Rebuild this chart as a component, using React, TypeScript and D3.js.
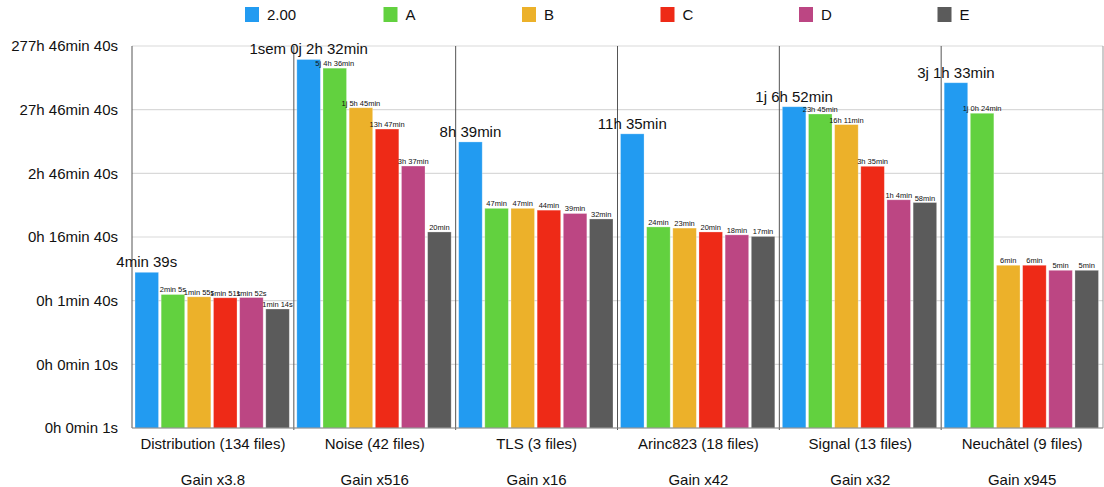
import React from "react";
import * as d3 from "d3";

const categories = [
  "Distribution (134 files)",
  "Noise (42 files)",
  "TLS (3 files)",
  "Arinc823 (18 files)",
  "Signal (13 files)",
  "Neuchâtel (9 files)",
];
const gains = ["Gain x3.8", "Gain x516", "Gain x16", "Gain x42", "Gain x32", "Gain x945"];
const seriesNames = ["2.00", "A", "B", "C", "D", "E"];
const seriesColors = ["#229BF1", "#62D13F", "#ECB12A", "#EE2A17", "#BC4683", "#5B5B5B"];

// values in seconds, one array per series (in category order)
const v200 = [279, 613920, 31140, 41700, 111120, 264780];
const vA = [125, 448560, 2820, 1440, 85500, 87840];
const vB = [115, 107100, 2820, 1380, 58260, 360];
const vC = [111, 49620, 2640, 1200, 12900, 360];
const vD = [112, 13020, 2340, 1080, 3840, 300];
const vE = [74, 1200, 1920, 1020, 3480, 300];
const seriesValues = [v200, vA, vB, vC, vD, vE];

const tickValues = [1, 10, 100, 1000, 10000, 100000, 1000000];

function fmtTick(s: number) {
  const h = Math.floor(s / 3600);
  const m = Math.floor((s % 3600) / 60);
  const sec = Math.round(s % 60);
  return `${h}h ${m}min ${sec}s`;
}

function fmtDur(total: number) {
  const units: [number, string][] = [
    [604800, "sem"],
    [86400, "j"],
    [3600, "h"],
    [60, "min"],
  ];
  let rest = total;
  const parts: string[] = [];
  let started = false;
  for (const [size, name] of units) {
    const q = Math.floor(rest / size);
    rest -= q * size;
    if (q > 0 || started) {
      started = true;
      parts.push(`${q}${name}`);
    }
  }
  if (total < 3600 && rest > 0) parts.push(`${rest}s`);
  return parts.join(" ");
}

const W = 1104;
const H = 487;
const left = 132;
const right = 1103;
const top = 46;
const bottom = 428;
const font = "Helvetica, Arial, 'Liberation Sans', sans-serif";

export default function App() {
  const y = d3.scaleLog().domain([1, 1000000]).range([bottom, top]);
  const x0 = d3.scaleBand<number>().domain(d3.range(categories.length)).range([left, right]).padding(0);
  const x1 = d3
    .scaleBand<number>()
    .domain(d3.range(seriesNames.length))
    .range([3, x0.bandwidth() - 4.5])
    .paddingInner(0.1)
    .paddingOuter(0);

  return (
    <svg
      width={W}
      height={H}
      style={{ position: "absolute", left: 0, top: 0, background: "#fff" }}
      fontFamily={font}
    >
      {/* legend */}
      {seriesNames.map((n, i) => (
        <g key={n} transform={`translate(${245 + i * 138.5},7)`}>
          <rect width={14} height={15} fill={seriesColors[i]} />
          <text x={22} y={13} fontSize={15} fill="#111">
            {n}
          </text>
        </g>
      ))}

      {/* gridlines */}
      {tickValues.map((t) => (
        <line key={t} x1={left} x2={right} y1={y(t)} y2={y(t)} stroke="#d9d9d9" strokeWidth={1.2} />
      ))}

      {/* tick labels */}
      {tickValues.map((t) => (
        <text key={t} x={118} y={y(t)} dy="0.35em" textAnchor="end" fontSize={15} fill="#111">
          {fmtTick(t)}
        </text>
      ))}

      {/* separators */}
      {categories.map((c, i) =>
        i === 0 ? null : (
          <line
            key={c}
            x1={x0(i)!}
            x2={x0(i)!}
            y1={top}
            y2={bottom + 2}
            stroke="#555"
            strokeWidth={1}
          />
        )
      )}
      <line x1={left} x2={left} y1={top} y2={bottom} stroke="#555" strokeWidth={1} />
      <line x1={right} x2={right} y1={top} y2={bottom} stroke="#999" strokeWidth={1} />

      {/* bars */}
      {categories.map((c, ci) => (
        <g key={c} transform={`translate(${x0(ci)},0)`}>
          {seriesValues.map((vals, si) => {
            const v = vals[ci];
            const bx = x1(si)!;
            const by = y(v);
            return (
              <g key={si}>
                <rect
                  x={bx}
                  y={by}
                  width={x1.bandwidth()}
                  height={bottom - by}
                  fill={seriesColors[si]}
                  stroke="#ffffff"
                  strokeOpacity={0.35}
                  strokeWidth={0.8}
                />
                <text
                  x={bx + x1.bandwidth() / 2}
                  y={si === 0 ? by - 5 : by - 2}
                  textAnchor="middle"
                  fontSize={si === 0 ? 15 : 7.5}
                  fill="#111"
                >
                  {fmtDur(v)}
                </text>
              </g>
            );
          })}
        </g>
      ))}

      <line x1={left} x2={right} y1={bottom} y2={bottom} stroke="#888" strokeWidth={1} />

      {/* category labels */}
      {categories.map((c, i) => (
        <g key={c}>
          <text x={x0(i)! + x0.bandwidth() / 2} y={449} textAnchor="middle" fontSize={15} fill="#111">
            {c}
          </text>
          <text x={x0(i)! + x0.bandwidth() / 2} y={485} textAnchor="middle" fontSize={15} fill="#111">
            {gains[i]}
          </text>
        </g>
      ))}
    </svg>
  );
}
